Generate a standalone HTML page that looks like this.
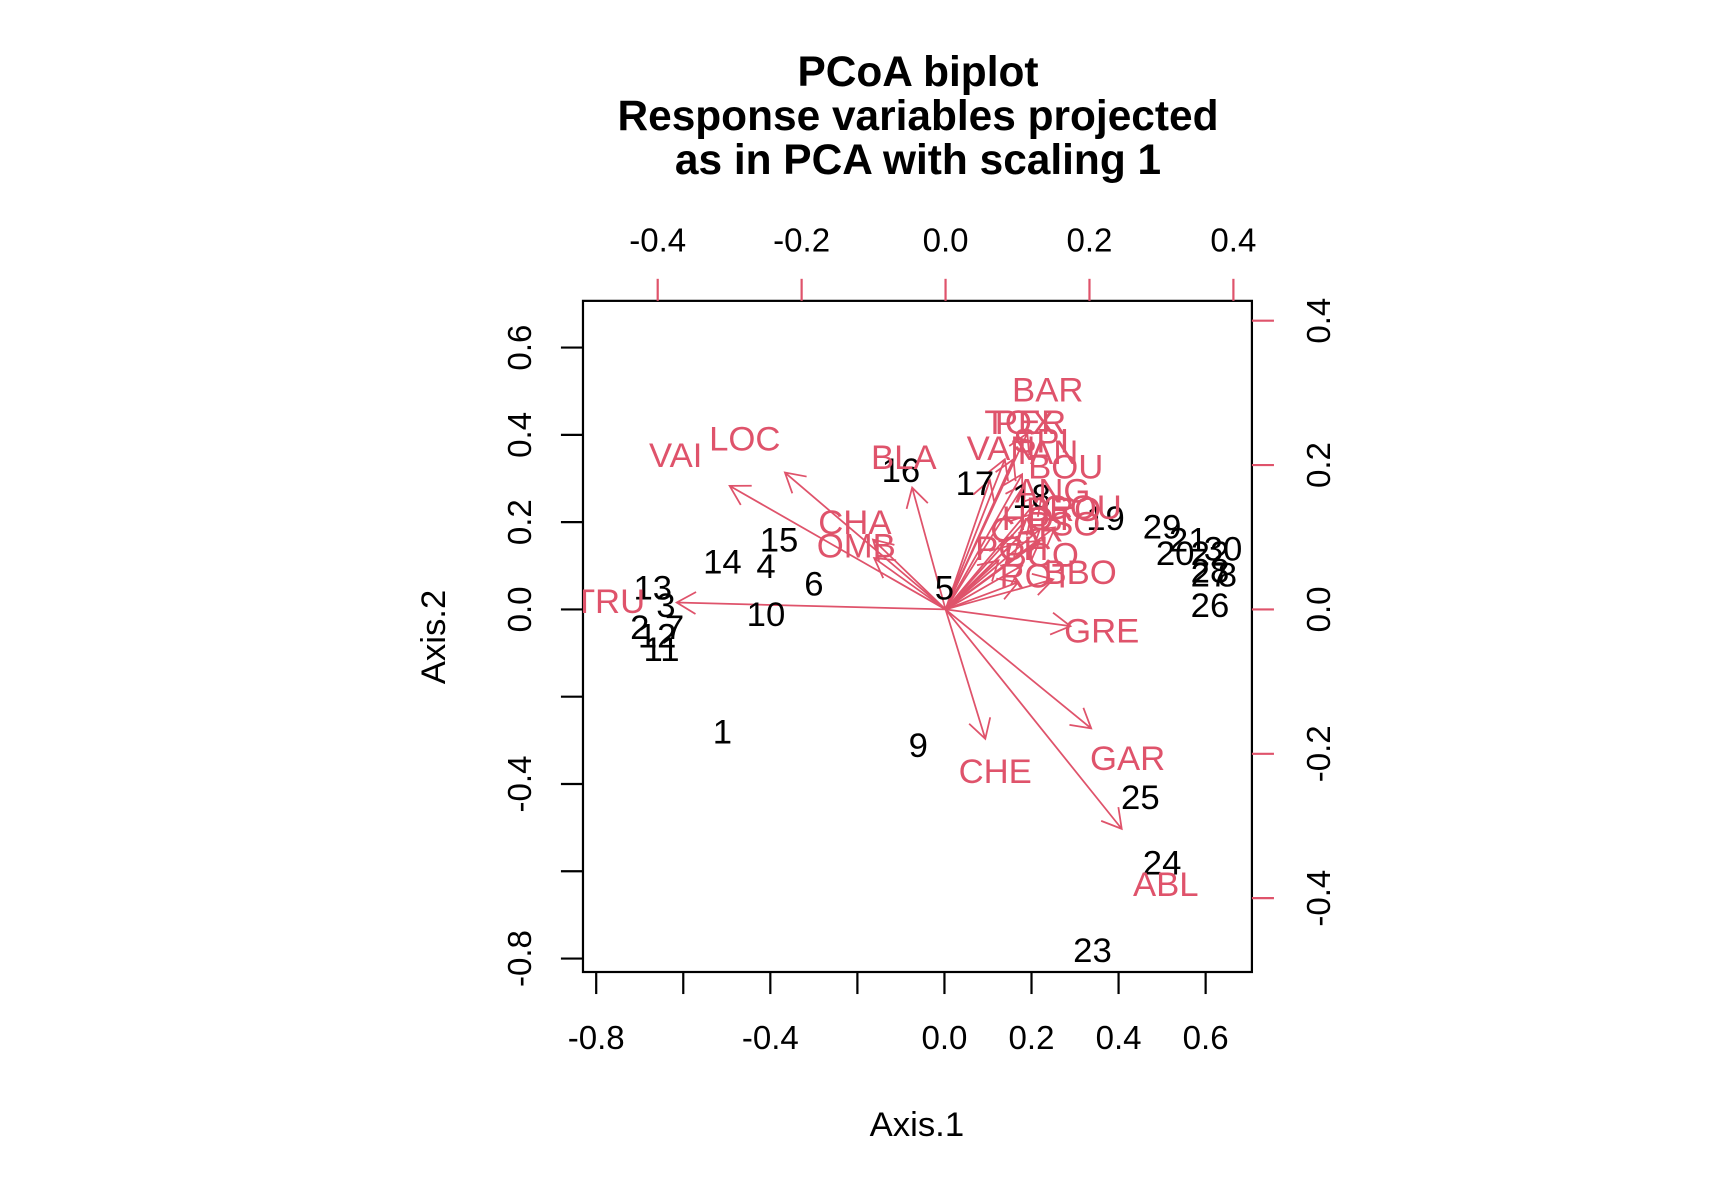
<!DOCTYPE html>
<html><head><meta charset="utf-8"><style>
html,body{margin:0;padding:0;background:#fff;}
svg{display:block;font-family:"Liberation Sans",Arial,sans-serif;}
</style></head><body>
<svg id="chart" width="1728" height="1188" viewBox="0 0 1568 1078" xmlns="http://www.w3.org/2000/svg">
<defs><clipPath id="plotclip"><rect x="529" y="273" width="607" height="609"/></clipPath></defs>
<g font-weight="bold" font-size="38.5" text-anchor="middle" fill="#000">
<text x="833" y="78">PCoA biplot</text>
<text x="833" y="118">Response variables projected</text>
<text x="833" y="158">as in PCA with scaling 1</text>
</g>
<rect x="529" y="273" width="607" height="609" fill="none" stroke="#000" stroke-width="2"/>
<g id="axes"></g>
<g id="arrows" clip-path="url(#plotclip)"></g>
<g id="sites" clip-path="url(#plotclip)"></g>
<g id="species" clip-path="url(#plotclip)"></g>
<text x="832" y="1031" font-size="31.5" text-anchor="middle">Axis.1</text>
<text x="404" y="578" font-size="31.5" text-anchor="middle" transform="rotate(-90 404 578)">Axis.2</text>
</svg>
<script>
const siteLabels = ["1","2","3","4","5","6","7","8","9","10","11","12","13","14","15","16","17","18","19","20","21","22","23","24","25","26","27","28","29","30"];
const siteX = [-0.51,-0.70,-0.64,-0.41,0.00,-0.30,-0.62,0.65,-0.06,-0.41,-0.65,-0.66,-0.67,-0.51,-0.38,-0.10,0.07,0.20,0.37,0.53,0.56,0.61,0.34,0.50,0.45,0.61,0.61,0.61,0.50,0.64];
const siteY = [-0.28,-0.04,0.01,0.10,0.05,0.06,-0.04,0.08,-0.31,-0.01,-0.09,-0.06,0.05,0.11,0.16,0.32,0.29,0.26,0.21,0.13,0.16,0.13,-0.78,-0.58,-0.43,0.01,0.08,0.09,0.19,0.14];
const speciesLabels = ["BAR","TOX","PER","SPI","VAN","TAN","BOU","ANG","BRO","GOU","PSO","HOT","CAR","PCH","BCO","ROT","BBO","GRE","GAR","CHE","ABL","BLA","CHA","OMB","LOC","VAI","TRU"];
const speciesX = [0.142,0.103,0.118,0.133,0.077,0.138,0.167,0.149,0.164,0.190,0.164,0.129,0.113,0.092,0.133,0.126,0.187,0.217,0.253,0.069,0.306,-0.058,-0.126,-0.124,-0.279,-0.375,-0.467];
const speciesY = [0.305,0.260,0.260,0.234,0.224,0.218,0.198,0.165,0.139,0.142,0.119,0.127,0.111,0.085,0.076,0.047,0.052,-0.029,-0.206,-0.224,-0.380,0.211,0.121,0.089,0.237,0.214,0.012];
const bottomTicks = [-0.8,-0.6,-0.4,-0.2,0.0,0.2,0.4,0.6];
const bottomLabels = ["-0.8","","-0.4","","0.0","0.2","0.4","0.6"];
const leftTicks = [-0.8,-0.6,-0.4,-0.2,0.0,0.2,0.4,0.6];
const leftLabels = ["-0.8","","-0.4","","0.0","0.2","0.4","0.6"];
const topTicks = [-0.4,-0.2,0.0,0.2,0.4];
const topLabels = ["-0.4","-0.2","0.0","0.2","0.4"];
const rightTicks = [-0.4,-0.2,0.0,0.2,0.4];
const rightLabels = ["-0.4","-0.2","0.0","0.2","0.4"];

const RED = "#DF536B";
const NS = "http://www.w3.org/2000/svg";
const sx = v => 857 + v*395;
const sy = v => 553 - v*396;
const vx = v => 858 + v*653;
const vy = v => 553 - v*655;
function mk(tag, attrs, parent){const e=document.createElementNS(NS,tag);for(const k in attrs)e.setAttribute(k,attrs[k]);parent.appendChild(e);return e;}
const axes=document.getElementById('axes');
const TF=30;
bottomTicks.forEach((t,i)=>{
  const l=mk('line',{x1:sx(t),x2:sx(t),y1:882,y2:902,stroke:'#000','stroke-width':2},axes);
  
  
  if(bottomLabels[i]){const tx=mk('text',{x:sx(t),y:952,'font-size':TF,'text-anchor':'middle'},axes);tx.textContent=bottomLabels[i];
  
  }
});
leftTicks.forEach((t,i)=>{
  const l=mk('line',{x1:509,x2:529,y1:sy(t),y2:sy(t),stroke:'#000','stroke-width':2},axes);
  
  
  if(leftLabels[i]){const y=sy(t);const tx=mk('text',{x:482,y:y,'font-size':TF,'text-anchor':'middle',transform:`rotate(-90 482 ${y})`},axes);tx.textContent=leftLabels[i];
  
  }
});
topTicks.forEach((t,i)=>{
  const l=mk('line',{x1:vx(t),x2:vx(t),y1:253,y2:273,stroke:RED,'stroke-width':2},axes);
  
  
  const tx=mk('text',{x:vx(t),y:228,'font-size':TF,'text-anchor':'middle'},axes);tx.textContent=topLabels[i];
  
  
});
rightTicks.forEach((t,i)=>{
  const l=mk('line',{x1:1136,x2:1156,y1:vy(t),y2:vy(t),stroke:RED,'stroke-width':2},axes);
  
  
  const y=vy(t);
  const tx=mk('text',{x:1207,y:y,'font-size':TF,'text-anchor':'middle',transform:`rotate(-90 1207 ${y})`},axes);tx.textContent=rightLabels[i];
  
  
});
const ag=document.getElementById('arrows'), spg=document.getElementById('species'), sg=document.getElementById('sites');
const LF=31.5;
speciesLabels.forEach((lab,i)=>{
  const x0=vx(0),y0=vy(0),x1=vx(speciesX[i]*0.8),y1=vy(speciesY[i]*0.8);
  const ang=Math.atan2(y1-y0,x1-x0),L=20,a=Math.PI/6;
  const p=`M${x0},${y0}L${x1},${y1}M${x1-L*Math.cos(ang-a)},${y1-L*Math.sin(ang-a)}L${x1},${y1}L${x1-L*Math.cos(ang+a)},${y1-L*Math.sin(ang+a)}`;
  const ar=mk('path',{d:p,stroke:RED,'stroke-width':1.6,fill:'none'},ag);
  
  
  const tx=mk('text',{x:vx(speciesX[i]),y:vy(speciesY[i])+11,'font-size':LF,'text-anchor':'middle',fill:RED},spg);tx.textContent=lab;
  
  
});
siteLabels.forEach((lab,i)=>{
  const tx=mk('text',{x:sx(siteX[i]),y:sy(siteY[i])+11,'font-size':LF,'text-anchor':'middle',fill:'#000'},sg);tx.textContent=lab;
  
  
});
</script>
</body></html>
